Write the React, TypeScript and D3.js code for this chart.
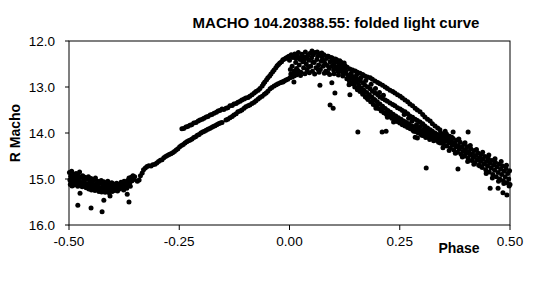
import React from "react";
import * as d3 from "d3";

const title = "MACHO 104.20388.55: folded light curve";
const xTickValues = [-0.5, -0.25, 0, 0.25, 0.5];
const xTickLabels = ["-0.50", "-0.25", "0.00", "0.25", "0.50"];
const yTickValues = [12, 13, 14, 15, 16];
const yTickLabels = ["12.0", "13.0", "14.0", "15.0", "16.0"];

// [phase, R magnitude]
const minimumCluster: [number, number][] = [
  [-0.499,14.86],[-0.498,15.02],[-0.497,15.12],[-0.496,14.94],[-0.495,15.07],[-0.494,14.83],[-0.493,15.15],[-0.492,14.98],[-0.491,15.09],[-0.490,14.90],[-0.489,15.04],[-0.488,15.13],[-0.487,14.96],[-0.486,15.06],
  [-0.484,14.88],[-0.483,15.10],[-0.481,15.00],[-0.480,15.16],[-0.479,14.92],[-0.477,15.05],[-0.476,14.85],[-0.475,15.12],[-0.473,14.97],[-0.472,15.08],[-0.470,15.17],[-0.469,14.93],[-0.467,15.03],[-0.466,15.13],[-0.464,14.96],[-0.463,15.09],[-0.461,15.19],
  [-0.459,15.00],[-0.458,15.11],[-0.456,14.95],[-0.455,15.22],[-0.453,15.06],[-0.452,15.15],[-0.450,14.99],[-0.449,15.24],[-0.447,15.09],[-0.446,15.18],[-0.444,15.02],[-0.443,15.13],[-0.441,15.25],[-0.440,14.98],[-0.438,15.10],[-0.437,15.20],[-0.435,15.05],[-0.434,15.15],[-0.432,15.27],
  [-0.430,15.08],[-0.429,15.19],[-0.427,15.03],[-0.426,15.28],[-0.424,15.12],[-0.423,15.22],[-0.421,15.06],[-0.420,15.17],[-0.418,15.29],[-0.417,15.10],[-0.415,15.24],[-0.414,15.14],[-0.412,15.05],[-0.411,15.20],[-0.409,15.30],[-0.408,15.12],[-0.406,15.23],[-0.405,15.16],[-0.403,15.08],[-0.402,15.27],[-0.400,15.18],[-0.399,15.11],[-0.397,15.25],[-0.396,15.15],[-0.394,15.21],[-0.392,15.09],
  [-0.390,15.26],[-0.389,15.17],[-0.387,15.12],[-0.385,15.22],[-0.383,15.15],[-0.382,15.07],[-0.380,15.19],[-0.378,15.12],[-0.376,15.24],[-0.375,15.05],[-0.373,15.16],[-0.371,15.10],[-0.369,15.20],[-0.367,15.03],[-0.366,15.13],[-0.364,14.98],[-0.362,15.08],[-0.361,15.16],[-0.359,14.96],[-0.357,15.04],[-0.355,14.93],[-0.353,15.01],[-0.351,14.95],
];

const minimumOutliers: [number, number][] = [
  [-0.480,15.57],[-0.450,15.63],[-0.425,15.71],[-0.421,15.46],[-0.475,15.31],[-0.407,15.37],[-0.368,15.33],[-0.364,15.50],
];

const risingLine: [number, number][] = [
  [-0.345,15.05],[-0.341,15.02],[-0.338,14.93],[-0.334,14.87],[-0.331,14.80],[-0.327,14.76],[-0.323,14.73],[-0.319,14.71],[-0.314,14.72],[-0.310,14.69],[-0.305,14.68],[-0.301,14.65],[-0.297,14.62],[-0.293,14.59],[-0.289,14.58],[-0.285,14.54],[-0.281,14.51],[-0.277,14.49],[-0.273,14.47],[-0.269,14.45],[-0.265,14.43],[-0.261,14.40],[-0.257,14.37],[-0.253,14.34],[-0.249,14.30],[-0.245,14.27],[-0.241,14.25],[-0.237,14.22],[-0.233,14.19],[-0.229,14.17],[-0.225,14.15],[-0.221,14.13],[-0.217,14.10],[-0.213,14.08],[-0.209,14.05],[-0.205,14.03],[-0.201,14.00],[-0.197,13.98],[-0.193,13.96],[-0.189,13.94],[-0.185,13.92],[-0.181,13.90],[-0.177,13.88],[-0.173,13.86],[-0.169,13.84],[-0.165,13.82],[-0.161,13.80],[-0.157,13.78],[-0.153,13.77],
];

const upperBranch: [number, number][] = [
  [-0.244,13.91],[-0.235,13.87],[-0.226,13.83],[-0.217,13.78],[-0.207,13.74],[-0.198,13.70],[-0.189,13.65],[-0.180,13.61],[-0.171,13.57],[-0.162,13.52],[-0.153,13.48],[-0.144,13.46],[-0.135,13.41],[-0.126,13.37],[-0.117,13.33],[-0.108,13.28],[-0.099,13.24],[-0.090,13.20],[-0.080,13.13],[-0.071,13.07],[-0.062,12.98],[-0.056,12.89],[-0.049,12.80],[-0.042,12.72],[-0.035,12.63],[-0.028,12.54],[-0.022,12.48],[-0.015,12.41],[-0.008,12.37],[-0.001,12.33],
  [-0.240,13.90],[-0.231,13.86],[-0.222,13.82],[-0.212,13.77],[-0.203,13.72],[-0.194,13.68],[-0.185,13.64],[-0.176,13.60],[-0.166,13.55],[-0.158,13.51],[-0.149,13.49],[-0.140,13.45],[-0.130,13.40],[-0.121,13.36],[-0.112,13.31],[-0.103,13.26],[-0.094,13.23],[-0.085,13.17],[-0.076,13.10],[-0.067,13.03],[-0.059,12.93],[-0.052,12.84],[-0.045,12.76],[-0.038,12.67],[-0.031,12.58],[-0.025,12.51],[-0.018,12.45],[-0.011,12.39],[-0.004,12.35],
];

const lowerBranch: [number, number][] = [
  [-0.144,13.72],[-0.135,13.67],[-0.126,13.61],[-0.117,13.54],[-0.108,13.50],[-0.099,13.43],[-0.090,13.39],[-0.080,13.33],[-0.071,13.26],[-0.062,13.20],[-0.053,13.13],[-0.044,13.04],[-0.035,12.98],[-0.026,12.93],[-0.017,12.89],[-0.008,12.85],[0.001,12.80],[0.010,12.76],[0.019,12.72],
  [-0.140,13.70],[-0.130,13.64],[-0.121,13.58],[-0.112,13.52],[-0.103,13.46],[-0.094,13.41],[-0.085,13.36],[-0.076,13.30],[-0.067,13.23],[-0.057,13.16],[-0.049,13.09],[-0.040,13.01],[-0.030,12.95],[-0.021,12.91],[-0.012,12.87],[-0.004,12.83],[0.006,12.78],[0.015,12.74],
];

const peakCluster: [number, number][] = [
  [0.000,12.42],[0.004,12.30],[0.006,12.55],[0.008,12.36],[0.010,12.66],[0.012,12.28],[0.014,12.47],[0.016,12.60],[0.018,12.33],[0.020,12.25],[0.022,12.52],[0.024,12.40],[0.026,12.68],[0.028,12.29],[0.030,12.45],[0.032,12.58],[0.034,12.35],[0.036,12.24],[0.038,12.50],[0.040,12.63],[0.042,12.31],[0.044,12.42],[0.046,12.27],[0.048,12.55],[0.050,12.37],[0.052,12.66],[0.054,12.30],[0.056,12.47],[0.058,12.25],[0.060,12.58],[0.062,12.40],[0.064,12.33],[0.066,12.52],[0.068,12.28],[0.070,12.62],[0.072,12.44],[0.074,12.35],[0.076,12.55],[0.078,12.30],[0.080,12.48],[0.082,12.66],[0.084,12.38],[0.086,12.53],[0.088,12.33],[0.090,12.60],[0.092,12.45],[0.094,12.36],[0.096,12.55],[0.098,12.42],[0.100,12.63],[0.102,12.48],[0.104,12.39],[0.106,12.57],[0.108,12.45],[0.110,12.66],[0.112,12.52],[0.114,12.43],[0.116,12.60],[0.118,12.50],[0.120,12.68],[0.122,12.55],[0.124,12.48],
  [0.003,12.72],[0.013,12.70],[0.025,12.75],[0.035,12.71],[0.045,12.69],[0.057,12.72],[0.067,12.68],[0.079,12.70],[0.091,12.73],[0.101,12.71],[0.111,12.74],[0.121,12.76],[0.015,12.38],[0.027,12.34],[0.039,12.37],[0.051,12.22],[0.063,12.24],[0.073,12.26],[0.086,12.33],[0.097,12.37],[0.107,12.41],[0.117,12.46],[0.126,12.60],[0.128,12.66],
  [0.002,12.62],[0.019,12.64],[0.033,12.42],[0.043,12.56],[0.053,12.46],[0.065,12.62],[0.077,12.43],[0.087,12.69],[0.099,12.52],[0.109,12.59],[0.119,12.62],[0.125,12.70],
];

const scatterOutliers: [number, number][] = [
  [0.010,12.89],[-0.015,12.89],[0.069,12.96],[0.096,12.91],[0.103,13.13],[0.092,13.39],[0.099,13.46],[0.137,13.17],[0.155,13.98],[0.210,13.98],[0.219,13.96],[0.310,14.76],[0.353,13.96],[0.371,13.98],[0.405,13.98],[0.382,14.78],[0.455,15.20],[0.473,15.20],[0.484,15.30],[0.493,15.35],
];

const strandUpper: [number, number][] = [
  [0.126,12.54],[0.137,12.61],[0.149,12.65],[0.160,12.70],[0.171,12.76],[0.183,12.80],[0.194,12.87],[0.205,12.93],[0.217,13.00],[0.228,13.07],[0.239,13.13],[0.251,13.20],[0.262,13.28],[0.273,13.37],[0.285,13.46],[0.296,13.54],[0.307,13.65],[0.319,13.74],[0.330,13.85],[0.341,13.93],
  [0.131,12.57],[0.143,12.63],[0.154,12.68],[0.166,12.73],[0.177,12.78],[0.188,12.83],[0.200,12.90],[0.211,12.96],[0.222,13.03],[0.234,13.10],[0.245,13.17],[0.256,13.24],[0.268,13.32],[0.279,13.41],[0.290,13.50],[0.302,13.60],[0.313,13.70],[0.324,13.80],[0.336,13.89],
];

const strandMiddle: [number, number][] = [
  [0.137,12.74],[0.149,12.80],[0.160,12.87],[0.171,12.96],[0.183,13.04],[0.194,13.13],[0.205,13.22],[0.217,13.28],[0.228,13.35],[0.239,13.41],[0.251,13.48],[0.262,13.54],[0.273,13.63],[0.285,13.70],[0.296,13.76],[0.307,13.85],[0.319,13.93],[0.330,14.00],[0.341,14.07],
  [0.143,12.77],[0.154,12.83],[0.166,12.91],[0.177,13.00],[0.188,13.09],[0.200,13.17],[0.211,13.25],[0.222,13.31],[0.234,13.38],[0.245,13.45],[0.256,13.51],[0.268,13.58],[0.279,13.66],[0.290,13.73],[0.302,13.80],[0.313,13.89],[0.324,13.96],[0.336,14.03],
];

const strandLower: [number, number][] = [
  [0.128,12.70],[0.130,12.82],[0.133,12.76],[0.136,12.88],[0.139,12.80],[0.142,12.93],[0.145,12.85],[0.148,13.00],[0.151,12.90],[0.154,13.06],[0.157,12.96],[0.160,13.10],[0.163,13.02],[0.166,13.16],[0.169,13.07],[0.172,13.22],[0.175,13.12],[0.178,13.27],[0.181,13.17],[0.184,13.32],[0.187,13.22],[0.190,13.38],[0.193,13.27],[0.196,13.42],[0.199,13.32],[0.202,13.47],[0.205,13.37],[0.208,13.52],[0.211,13.42],[0.214,13.56],[0.217,13.47],[0.220,13.60],[0.223,13.51],[0.226,13.64],[0.229,13.55],[0.232,13.68],[0.235,13.59],[0.238,13.72],[0.241,13.63],[0.244,13.75],[0.247,13.67],[0.250,13.78],[0.253,13.70],[0.256,13.82],[0.259,13.74],[0.262,13.85],[0.265,13.77],[0.268,13.88],[0.271,13.80],[0.274,13.91],[0.277,13.84],[0.280,13.94],[0.283,13.87],[0.286,13.97],[0.289,13.90],[0.292,14.00],[0.295,13.93],[0.298,14.03],[0.301,13.96],[0.304,14.06],[0.307,13.99],[0.310,14.08],[0.313,14.02],[0.316,14.10],[0.319,14.04],[0.322,14.12],[0.325,14.06],[0.328,14.14],[0.331,14.08],[0.334,14.16],[0.337,14.10],[0.340,14.18],
  [0.176,13.24],[0.196,13.46],[0.222,13.66],[0.236,13.76],[0.285,14.09],[0.290,14.11],
];

const descendingScatter: [number, number][] = [
  [0.135,12.95],[0.140,12.70],[0.146,12.92],[0.152,12.74],[0.158,13.04],[0.162,12.80],[0.168,13.13],[0.173,12.86],[0.179,13.20],[0.185,12.94],[0.189,13.30],[0.195,13.03],[0.198,13.40],[0.204,13.12],[0.209,13.48],[0.213,13.18],[0.218,13.57],[0.227,13.62],[0.237,13.68],[0.246,13.74],[0.255,13.80],[0.260,13.60],[0.264,13.84],[0.270,13.68],[0.274,13.88],[0.278,13.74],[0.282,13.96],[0.288,13.82],[0.293,13.98],[0.297,13.86],[0.300,14.05],[0.305,13.92],[0.309,14.10],[0.314,13.96],[0.318,14.14],[0.323,14.00],[0.327,14.17],[0.332,14.04],[0.338,14.20],
];

const descendingTail: [number, number][] = [
  [0.343,14.00],[0.345,14.15],[0.347,14.08],[0.349,14.24],[0.351,14.04],[0.353,14.18],[0.355,14.10],[0.357,14.28],[0.359,14.14],[0.361,14.22],[0.363,14.07],[0.365,14.33],[0.367,14.18],[0.369,14.26],[0.371,14.12],[0.373,14.37],[0.375,14.22],[0.377,14.30],[0.379,14.16],[0.381,14.42],[0.383,14.27],[0.385,14.35],[0.387,14.20],[0.389,14.46],[0.391,14.31],[0.393,14.40],[0.395,14.25],[0.397,14.50],[0.399,14.36],[0.401,14.44],[0.403,14.30],[0.405,14.55],[0.407,14.40],[0.409,14.48],[0.411,14.34],[0.413,14.60],[0.415,14.45],[0.417,14.53],[0.419,14.38],[0.421,14.64],[0.423,14.49],[0.425,14.58],[0.427,14.43],[0.429,14.70],[0.431,14.53],[0.433,14.62],[0.435,14.47],[0.437,14.75],[0.439,14.57],[0.441,14.67],[0.443,14.51],[0.445,14.80],[0.447,14.62],[0.449,14.72],[0.451,14.56],[0.453,14.85],[0.455,14.66],[0.457,14.76],[0.459,14.60],[0.461,14.90],[0.463,14.70],[0.465,14.81],[0.467,14.64],[0.469,14.95],[0.471,14.74],[0.473,14.86],[0.475,14.68],[0.477,15.00],[0.479,14.79],[0.481,14.90],[0.483,14.72],[0.485,15.04],[0.487,14.83],[0.489,14.95],[0.491,14.77],[0.493,15.08],[0.495,14.88],[0.497,15.00],[0.499,14.82],[0.500,15.12],
  [0.342,14.22],[0.348,14.32],[0.356,14.02],[0.362,14.38],[0.368,14.09],[0.376,14.44],[0.384,14.13],[0.392,14.52],[0.398,14.21],[0.404,14.62],[0.410,14.27],[0.418,14.68],[0.424,14.36],[0.432,14.72],[0.438,14.42],[0.446,14.88],[0.452,14.48],[0.460,14.98],[0.466,14.56],[0.474,15.05],[0.480,14.62],[0.486,15.10],[0.492,14.70],[0.498,15.15],
];

const allSeries = [
  minimumCluster, minimumOutliers, risingLine, upperBranch, lowerBranch,
  peakCluster, scatterOutliers, strandUpper, strandMiddle, strandLower,
  descendingScatter, descendingTail,
];

const W = 543, H = 299;
const margin = { left: 69, right: 33, top: 41, bottom: 74 };
const font = "Arial, 'Liberation Sans', sans-serif";

export default function App() {
  const x = d3.scaleLinear().domain([-0.5, 0.5]).range([margin.left, W - margin.right]);
  const y = d3.scaleLinear().domain([12, 16]).range([margin.top, H - margin.bottom]);
  const points = allSeries.flat();
  const [x0, x1] = x.range();
  const [y0, y1] = y.range();
  return (
    <svg width={W} height={H} style={{ position: "absolute", left: 0, top: 0, background: "#fff" }} fontFamily={font}>
      <rect x={0} y={0} width={W} height={H} fill="#fff" />
      <text x={336} y={28} textAnchor="middle" fontSize={15} fontWeight="bold">{title}</text>
      <rect x={x0} y={y0} width={x1 - x0} height={y1 - y0} fill="none" stroke="#000" strokeWidth={1} />
      {yTickValues.map((v, i) => (
        <g key={"y" + i}>
          <line x1={x0 - 4} x2={x0} y1={y(v)} y2={y(v)} stroke="#000" />
          <text x={x0 - 14} y={y(v) + 5} textAnchor="end" fontSize={13.5}>{yTickLabels[i]}</text>
        </g>
      ))}
      {xTickValues.map((v, i) => (
        <g key={"x" + i}>
          <line x1={x(v)} x2={x(v)} y1={y1} y2={y1 + 5} stroke="#000" />
          <text x={x(v)} y={y1 + 21} textAnchor="middle" fontSize={13.5}>{xTickLabels[i]}</text>
        </g>
      ))}
      <text x={459} y={253} textAnchor="middle" fontSize={14} fontWeight="bold">Phase</text>
      <text transform={`translate(20,${(y0 + y1) / 2}) rotate(-90)`} textAnchor="middle" fontSize={14} fontWeight="bold">R Macho</text>
      {points.map((p, i) => (
        <circle key={i} cx={x(p[0])} cy={y(p[1])} r={2.5} fill="#000" />
      ))}
    </svg>
  );
}
